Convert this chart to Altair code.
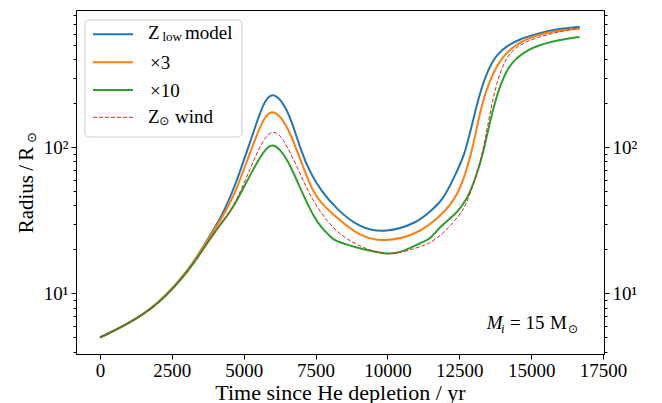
import altair as alt
import pandas as pd

# ---------------- data ----------------
blue_t = [0, 855, 2010, 3165, 3744, 4212, 4667, 5246, 5707, 5998, 6300, 6633, 6979, 7326, 7672,
          8251, 9047, 9926, 11025, 11487, 11948, 12412, 12700, 12950, 13220, 13500, 13798, 14200,
          14605, 14953, 15763, 16686]
blue_r = [5.0, 6.0, 8.3, 15.0, 23.5, 33, 52, 112, 210, 236, 212, 161, 95.4, 66.2, 51.0,
          37.3, 28.0, 25.9, 30.3, 36.5, 43.6, 68, 90.6, 145, 238, 340, 433, 500,
          548, 578, 642, 668]

orange_t = [0, 855, 2010, 3165, 3744, 4212, 4667, 5246, 5707, 5998, 6300, 6633, 6979, 7326, 7672,
            8251, 9047, 9868, 11025, 11833, 12469, 12931, 13150, 13393, 13913, 14839, 15763, 16686]
orange_r = [5.0, 6.0, 8.3, 15.0, 23.3, 32, 46, 95.4, 163, 180, 162, 124, 81.6, 53.7, 41.4,
            32.8, 24.5, 22.4, 25.2, 33.6, 46, 90.6, 150, 238, 423, 565, 625, 648]

green_t = [0, 855, 2010, 3165, 3744, 4212, 4667, 5246, 5707, 5939, 6100, 6401, 6748, 7094, 7441,
           7672, 8019, 8134, 8827, 9985, 10446, 11254, 11487, 11833, 12412, 12758, 13050, 13335,
           13682, 14145, 14839, 15763, 16686]
green_r = [5.0, 6.0, 8.2, 14.8, 22.5, 30, 39.3, 66.2, 95.4, 104, 103, 90.6, 66.2, 45.9, 33.5,
           28.7, 24.5, 23.0, 20.8, 18.4, 18.9, 22.7, 23.5, 28.8, 35.4, 43.6, 60, 90.6,
           193, 361, 469, 535, 569]

red_t = [0, 855, 2010, 3165, 3744, 4212, 4667, 5246, 5707, 5998, 6200, 6401, 6865, 7211, 7672,
         8365, 9291, 10099, 11025, 11487, 11948, 12527, 12758, 13050, 13335, 13624, 14029, 14605,
         15763, 16686]
red_r = [5.0, 6.0, 8.2, 14.8, 22.5, 30, 39.3, 73.4, 117, 129, 124, 111.6, 73.4, 51, 35.4,
         24.5, 19.9, 18.1, 20.5, 22.0, 25.8, 34.4, 41.4, 60, 93, 203, 401, 519,
         609, 655]

x_ticks = [0, 2500, 5000, 7500, 10000, 12500, 15000, 17500]
y_ticks = [4, 5, 6, 7, 8, 9, 10, 20, 30, 40, 50, 60, 70, 80, 90,
           100, 200, 300, 400, 500, 600, 700, 800]

legend_labels = ["model", "\u00d73", "\u00d710", "wind"]

FONT = "Liberation Serif"
SYM = "DejaVu Sans"

x_scale = alt.Scale(domain=[-835, 17535], nice=False, zero=False)
y_scale = alt.Scale(type="log", domain=[3.85, 870], nice=False)

tick_size = {"condition": {"test": "datum.value == 10 || datum.value == 100", "value": 5},
             "value": 3}
label_expr = "datum.value == 10 ? '10\u00b9' : (datum.value == 100 ? '10\u00b2' : '')"


def y_axis(orient):
    return alt.Axis(orient=orient, values=y_ticks, labelExpr=label_expr, tickSize=tick_size,
                    title=None, grid=False, labelFont=FONT, labelFontSize=19,
                    labelColor="black", tickColor="black", domainColor="black",
                    labelPadding=3, labelOverlap=False, labelFlush=False, tickWidth=1)


x_axis = alt.Axis(values=x_ticks, title="Time since He depletion / yr", grid=False,
                  labelFont=FONT, labelFontSize=19, labelColor="black", tickColor="black",
                  domainColor="black", tickSize=5, labelPadding=2, labelFlush=False,
                  titleFont=FONT, titleFontSize=22, titleFontWeight="normal",
                  titleColor="black", titlePadding=2, format="d", orient="bottom")


def line(t, r, color, width, dash=None, yaxis=None, opacity=1.0):
    df = pd.DataFrame({"t": t, "r": r})
    kw = dict(color=color, strokeWidth=width, interpolate="basis", opacity=opacity)
    if dash:
        kw["strokeDash"] = dash
    return alt.Chart(df).mark_line(**kw).encode(
        x=alt.X("t:Q", scale=x_scale, axis=x_axis),
        y=alt.Y("r:Q", scale=y_scale, axis=yaxis),
    )


one = pd.DataFrame({"a": [0]})


def txt(s, x, y, size=19, font=FONT, style="normal", angle=0, align="left"):
    kw = dict(text=s, font=font, fontSize=size, fontStyle=style, color="black",
              align=align, baseline="alphabetic")
    if angle:
        kw["angle"] = angle
    return alt.Chart(one).mark_text(**kw).encode(x=alt.value(x), y=alt.value(y))


def rule(x1, x2, y, color, width, dash=None):
    kw = dict(color=color, strokeWidth=width)
    if dash:
        kw["strokeDash"] = dash
    return alt.Chart(one).mark_rule(**kw).encode(x=alt.value(x1), x2=alt.value(x2),
                                                 y=alt.value(y))


BLUE, ORANGE, GREEN, RED = "#1f77b4", "#ff7f0e", "#2ca02c", "#d62728"

lines = [
    line(blue_t, blue_r, BLUE, 2, yaxis=y_axis("left")),
    line(orange_t, orange_r, ORANGE, 2),
    line(green_t, green_r, GREEN, 2),
    line(red_t, red_r, RED, 1, dash=[4, 2]),
    line(blue_t, blue_r, BLUE, 1, yaxis=y_axis("right"), opacity=0),
]

legend_box = alt.Chart(one).mark_rect(fill="white", fillOpacity=0.8, stroke="#cccccc",
                                      strokeWidth=1, cornerRadius=4).encode(
    x=alt.value(9), x2=alt.value(166), y=alt.value(10), y2=alt.value(127))

legend = [
    legend_box,
    rule(17, 57, 24.3, BLUE, 2),
    rule(17, 57, 52.3, ORANGE, 2),
    rule(17, 57, 80, GREEN, 2),
    rule(17, 57, 107.3, RED, 1, dash=[4, 2]),
    txt("Z", 72, 29.3),
    txt("low", 86.5, 31, size=13),
    txt(legend_labels[0], 109, 29.3),
    txt(legend_labels[1], 74, 59),
    txt(legend_labels[2], 74, 87.3),
    txt("Z", 72, 112.7),
    txt("\u2299", 83.3, 115, size=12, font=SYM),
    txt(legend_labels[3], 99, 112.7),
]

annot = [
    txt("M", 410.7, 319.3, style="italic"),
    txt("i", 425, 323, size=13, style="italic"),
    txt("= 15", 434, 319.3),
    txt("M", 474, 319.3),
    txt("\u2299", 492, 323, size=12, font=SYM),
]

ytitle = [
    txt("Radius\u2009/\u2009R", -43, 223.3, size=21, angle=270),
    txt("\u2299", -40, 133, size=13, font=SYM, angle=270),
]

chart = alt.layer(*lines, *legend, *annot, *ytitle).resolve_axis(
    x="shared", y="independent").properties(
    width=528, height=344,
    background="white",
    autosize=alt.AutoSizeParams(type="none"),
    padding={"left": 76, "top": 10, "right": 58, "bottom": 49},
).configure_view(stroke="black", strokeWidth=1)

chart.save("out.html", embed_options={"renderer": "svg", "actions": False})
